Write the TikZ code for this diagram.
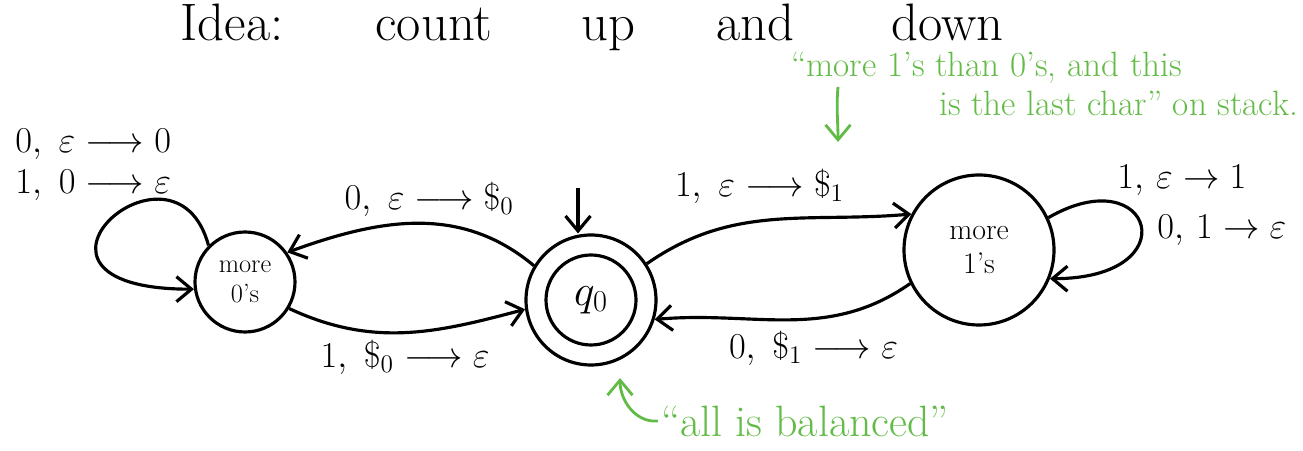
\documentclass[tikz,border=0pt]{standalone}
\usepackage{amsmath,amssymb}
\usepackage{xcolor}
\definecolor{marker}{RGB}{98,187,70}
\usepackage{tikz}
\usetikzlibrary{arrows.meta,positioning,calc}

\begin{document}
\begin{tikzpicture}[x=0.2mm, y=0.2mm, line width=1.8pt,
    state/.style={circle, draw, line width=1.8pt, align=center, inner sep=0pt},
    edge/.style={-{Straight Barb[length=3mm,width=5mm]}, line width=1.8pt},
    lbl/.style={font=\fontsize{20}{23}\selectfont},
    word/.style={anchor=base west, inner sep=0pt, font=\fontsize{30}{32}\selectfont},
    note/.style={text=marker, inner sep=1pt, font=\fontsize{20}{22}\selectfont},
    noteedge/.style={draw=marker, line width=1.6pt, -{Straight Barb[length=3mm,width=5mm]}}]
    \useasboundingbox (0,0) rectangle (1303,451);

    % Heading
    \node[word] (hIdea) at (179,410) {Idea:};
    \node[word] (hCount) at (374,410) {count};
    \node[word] (hUp) at (580,410) {up};
    \node[word] (hAnd) at (715,410) {and};
    \node[word] (hDown) at (890,410) {down};

    % States
    \node[state, minimum size=2cm, font=\fontsize{15}{17}\selectfont] (zeros) at (245,169) {more\\0's};
    \node[state, minimum size=2.6cm, font=\fontsize{26}{28}\selectfont] (q0) at (591,151) {$q_0$};
    \draw (q0.center) circle (0.9cm);
    \node[state, minimum size=3cm, font=\fontsize{17}{19}\selectfont] (ones) at (979,201) {more\\1's};

    % Start arrow
    \coordinate (start) at (578,263);
    \draw[edge] (start) -- (q0.north -| start);

    % Between the states
    \draw[edge] (q0.149) to[out=140, in=20] node[lbl, above, pos=0.45] (pushzero) {$0,\ \varepsilon \longrightarrow \$_0$} (zeros.35);
    \draw[edge] (zeros.-31) to[out=-25, in=195] node[lbl, below, pos=0.5] (popzero) {$1,\ \$_0 \longrightarrow \varepsilon$} (q0.188);
    \draw[edge] (q0.33) to[out=35, in=185] node[lbl, above=2mm, pos=0.45] (pushone) {$1,\ \varepsilon \longrightarrow \$_1$} (ones.152);
    \draw[edge] (ones.206) to[out=215, in=5] node[lbl, below=1mm, pos=0.4] (popone) {$0,\ \$_1 \longrightarrow \varepsilon$} (q0.-17);

    % Self loops
    \draw[edge] (zeros.135) .. controls +(105:130) and +(180:210) .. (zeros.188);
    \node[lbl, anchor=west, align=left] (zeroloop) at (8,286)
        {$0,\ \varepsilon \longrightarrow 0$\\$1,\ 0 \longrightarrow \varepsilon$};
    \draw[edge] (ones.25) .. controls +(30:120) and +(0:140) .. (ones.-22);
    \node[lbl, anchor=west] (oneloopa) at (1110,271) {$1,\,\varepsilon \rightarrow 1$};
    \node[lbl, anchor=west] (oneloopb) at (1150,221) {$0,\,1 \rightarrow \varepsilon$};

    % Green remarks
    \node[note, anchor=west] (remarka) at (788,383) {``more 1's than 0's, and this};
    \node[note, anchor=west] (remarkb) at (936,348) {is the last char'' on stack.};
    \coordinate (dollar) at (838,309);
    \draw[noteedge] (remarka.south -| dollar) to[out=-95, in=90] (dollar);
    \node[note, font=\fontsize{25}{27}\selectfont] (balanced) at (805,30) {``all is balanced''};
    \coordinate (below) at (620,73);
    \draw[noteedge] (balanced.west) to[out=185, in=-90] (below);
\end{tikzpicture}
\end{document}
